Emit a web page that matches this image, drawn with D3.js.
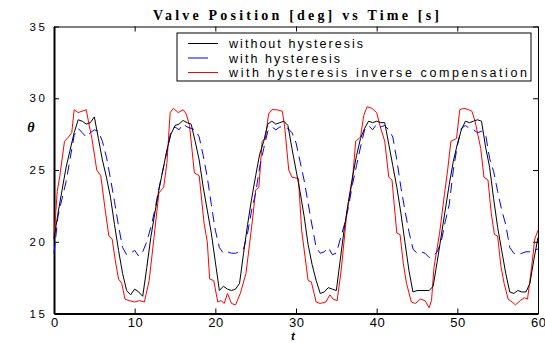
<!DOCTYPE html>
<html>
<head>
<meta charset="utf-8">
<script src="https://cdn.jsdelivr.net/npm/d3@7"></script>
<style>
    body { margin: 0; background: #fff; }
    .axis path, .axis line { stroke: #000; }
    .axis text { font-family: "Liberation Sans", Arial, sans-serif; fill: #000; }
    .x-axis text { font-size: 13px; }
    .y-axis text { font-size: 11.5px; }
</style>
</head>
<body>
<div id="chart"></div>
<script>
// sample instants for black and blue series (every 0.5 s)
var sampleTime = d3.range(0, 60.25, 0.5);

var withoutHysteresis = [
    20.2, 22.0, 23.6, 25.2, 26.4, 27.6, 28.5, 28.4, 28.2, 28.3, 28.7, 27.2,
    25.7, 24.5, 23.1, 21.2, 19.4, 17.8, 16.6, 16.3, 16.7, 16.5, 16.2, 18.2,
    20.3, 22.0, 23.6, 25.0, 26.4, 27.5, 28.1, 28.2, 28.45, 28.3, 28.2, 27.0,
    25.7, 23.8, 22.2, 20.6, 18.6, 16.6, 16.9, 16.7, 16.6, 16.7, 17.1, 19.2,
    21.2, 23.0, 24.6, 26.1, 27.0, 28.2, 28.4, 28.2, 28.3, 28.4, 28.1, 26.5,
    25.0, 23.5, 21.8, 19.8, 18.4, 17.3, 16.4, 16.5, 16.8, 16.7, 16.6, 18.8,
    21.0, 22.8, 24.5, 26.0, 27.2, 27.9, 28.4, 28.3, 28.4, 28.3, 28.3, 26.8,
    25.3, 23.8, 22.0, 20.0, 18.0, 16.5, 16.6, 16.6, 16.6, 16.6, 16.9, 18.6,
    20.4, 22.2, 24.0, 25.6, 26.8, 27.8, 28.4, 28.3, 28.4, 28.5, 28.4, 26.6,
    25.2, 23.0, 21.0, 19.4, 17.8, 16.5, 16.4, 16.6, 16.5, 16.5, 17.1, 18.8,
    20.3
];

var withHysteresis = [
    19.2, 21.8, 23.0, 24.2, 25.8, 27.4, 27.9, 27.6, 27.3, 27.6, 27.8, 27.7,
    27.0, 25.9, 24.4, 22.8, 21.1, 19.6, 19.1, 19.2, 19.4, 19.0, 19.3, 20.0,
    21.0, 22.2, 23.7, 25.0, 26.3, 27.7, 28.0, 27.8, 28.2, 28.0, 27.9, 27.8,
    27.3, 26.0, 24.5, 22.6, 20.8, 19.6, 19.2, 19.3, 19.2, 19.2, 19.3, 19.5,
    20.6, 22.2, 23.4, 25.2, 26.5, 27.7, 28.0, 27.8, 28.0, 28.0, 27.9, 27.6,
    26.9, 25.6, 24.3, 22.7, 21.1, 19.6, 19.2, 19.3, 19.6, 19.1, 19.2, 20.2,
    21.2, 22.4, 24.0, 25.3, 26.6, 27.8, 28.1, 27.8, 28.2, 28.0, 28.1, 27.8,
    27.3, 25.7, 23.8, 22.2, 20.7, 19.5, 19.2, 19.3, 19.2, 18.9, 19.0, 19.3,
    20.0, 21.4, 22.6, 25.0, 26.7, 27.9, 28.1, 27.9, 27.8, 27.6, 27.7, 27.5,
    25.8, 24.9, 23.5, 22.2, 21.2, 19.6, 19.2, 19.1, 19.2, 19.3, 19.3, 19.4,
    19.5
];

// compensated series has its own irregular sample instants
var compTime = [
    0, 0.4, 0.7, 1.3, 1.8, 2.2, 2.5, 3.0, 3.5, 4.0, 4.3, 4.7, 5.3, 5.8, 6.3, 6.8,
    7.2, 7.6, 8.0, 8.4, 8.8, 9.3, 10.0, 10.6, 11.2, 11.8, 12.4, 13.0, 13.6, 14.0,
    14.4, 14.8, 15.4, 16.0, 16.4, 16.8, 17.4, 18.0, 18.6, 19.0, 19.3, 19.8, 20.3,
    20.7, 21.1, 21.5, 22.0, 22.5, 23.1, 23.8, 24.6, 25.0, 25.4, 25.8, 26.2, 26.6,
    27.0, 27.6, 28.3, 28.6, 29.1, 29.5, 30.3, 30.7, 31.5, 31.9, 32.5, 33.0, 33.7,
    34.2, 34.6, 35.1, 35.6, 36.3, 37.0, 37.4, 38.0, 38.4, 38.8, 39.4, 40.0, 40.4,
    41.0, 41.5, 41.9, 42.3, 42.5, 42.9, 43.3, 43.7, 44.3, 44.8, 45.4, 46.0, 46.5,
    46.8, 47.1, 47.8, 48.4, 48.8, 49.2, 49.9, 50.3, 50.8, 51.4, 51.8, 52.2, 52.9,
    53.3, 53.8, 54.2, 54.6, 55.0, 55.4, 55.8, 56.3, 56.8, 57.2, 57.8, 58.3, 58.7,
    59.2, 59.6, 60
];
var withCompensation = [
    20.3, 23.5, 24.5, 27.0, 27.3, 27.6, 29.2, 29.0, 29.1, 29.2, 28.3, 27.2, 25.0, 24.6, 22.4, 20.4,
    20.2, 18.7, 17.4, 17.1, 16.0, 15.9, 15.8, 15.9, 15.8, 17.3, 20.3, 23.4, 23.8, 25.5,
    29.0, 29.3, 29.0, 29.2, 28.9, 28.1, 24.8, 24.6, 21.3, 20.0, 17.4, 17.3, 15.8,
    15.9, 15.7, 16.4, 15.7, 15.6, 16.4, 17.8, 21.5, 23.6, 23.8, 27.0, 27.2, 28.9,
    29.2, 29.2, 29.1, 28.0, 25.0, 24.5, 24.4, 20.8, 17.3, 17.2, 15.8, 15.7, 15.8,
    16.3, 16.0, 15.9, 18.0, 22.0, 24.3, 27.0, 27.3, 28.8, 29.4, 29.3, 29.0, 28.1,
    27.0, 24.5, 24.3, 21.8, 20.6, 20.5, 18.5, 17.1, 15.8, 15.7, 16.0, 15.9, 15.4,
    15.9, 18.2, 20.6, 23.3, 25.0, 27.0, 27.2, 29.2, 29.3, 29.2, 29.1, 28.4, 26.5,
    24.5, 24.3, 22.0, 20.5, 20.4, 18.3, 17.1, 16.0, 15.8, 15.6, 15.9, 16.1, 16.0,
    18.2, 20.2, 20.8
];

var xTicks = [0, 10, 20, 30, 40, 50, 60];
var yTicks = [15, 20, 25, 30, 35];
var legendLabels = ["without hysteresis", "with hysteresis", "with hysteresis inverse compensation"];

var margin = { top: 26.5, right: 7, bottom: 29.5, left: 54 };
var width = 545 - margin.left - margin.right;
var height = 343 - margin.top - margin.bottom;

var svg = d3.select("#chart").append("svg")
    .attr("width", 545)
    .attr("height", 343);

var g = svg.append("g")
    .attr("transform", "translate(" + margin.left + "," + margin.top + ")");

var x = d3.scaleLinear().domain([0, 60]).range([0, width]);
var y = d3.scaleLinear().domain([15, 35]).range([height, 0]);

// spread the digits apart a bit, like the original print
function spreadDigits(sel, w) {
    sel.each(function () {
        var t = d3.select(this);
        if (t.text().length > 1) t.attr("textLength", w).attr("lengthAdjust", "spacing");
    });
}

// axes, ticks pointing inward like matlab
g.append("g")
    .attr("class", "axis x-axis")
    .attr("transform", "translate(0," + height + ")")
    .call(d3.axisBottom(x).tickValues(xTicks).tickSizeInner(-5).tickSizeOuter(0).tickPadding(4.5))
    .selectAll("text").call(spreadDigits, 15);

g.append("g")
    .attr("class", "axis")
    .call(d3.axisTop(x).tickValues(xTicks).tickSizeInner(-5).tickSizeOuter(0).tickFormat(""));

g.append("g")
    .attr("class", "axis y-axis")
    .call(d3.axisLeft(y).tickValues(yTicks).tickSizeInner(-5).tickSizeOuter(0).tickPadding(9))
    .selectAll("text").call(spreadDigits, 15.5);

g.append("g")
    .attr("class", "axis")
    .attr("transform", "translate(" + width + ",0)")
    .call(d3.axisRight(y).tickValues(yTicks).tickSizeInner(-5).tickSizeOuter(0).tickFormat(""));

g.selectAll(".axis path").attr("stroke-width", 1);
g.select(".x-axis path").attr("stroke-width", 2);
g.select(".y-axis path").attr("stroke-width", 2);

var line = d3.line()
    .x(function (d) { return x(d[0]); })
    .y(function (d) { return y(d[1]); });

var series = [
    { name: legendLabels[0], t: sampleTime, v: withoutHysteresis, color: "#000000", dash: null, key: 30 },
    { name: legendLabels[1], t: sampleTime, v: withHysteresis, color: "#0000ff", dash: "10,6", key: 20 },
    { name: legendLabels[2], t: compTime, v: withCompensation, color: "#ff0000", dash: null, key: 30 }
];

var drawOrder = [2, 1, 0];
drawOrder.forEach(function (i) {
    var s = series[i];
    g.append("path")
        .datum(s.t.map(function (t, k) { return [t, s.v[k]]; }))
        .attr("fill", "none")
        .attr("stroke", s.color)
        .attr("stroke-width", 1)
        .attr("stroke-dasharray", s.dash)
        .attr("d", line);
});

// legend
var legend = svg.append("g").attr("transform", "translate(177,33)");
legend.append("rect")
    .attr("width", 354)
    .attr("height", 48)
    .attr("fill", "#fff")
    .attr("stroke", "#000")
    .attr("stroke-width", 1);

var textWidths = [134, 111, 298];
series.forEach(function (s, i) {
    var ly = 10.5 + i * 14.5;
    legend.append("line")
        .attr("x1", 11).attr("x2", 11 + s.key)
        .attr("y1", ly).attr("y2", ly)
        .attr("stroke", s.color)
        .attr("stroke-width", 1);
    legend.append("text")
        .attr("x", 52)
        .attr("y", ly + 4.5)
        .attr("textLength", textWidths[i])
        .attr("lengthAdjust", "spacing")
        .style("font-family", "'Liberation Sans', Arial, sans-serif")
        .style("font-size", "12.5px")
        .text(s.name);
});

// title and axis labels
svg.append("text")
    .attr("x", 153)
    .attr("y", 20)
    .attr("textLength", 286)
    .attr("lengthAdjust", "spacing")
    .style("font-family", "'Liberation Serif', 'Times New Roman', serif")
    .style("font-weight", "bold")
    .style("font-size", "14px")
    .text("Valve Position [deg] vs Time [s]");

svg.append("text")
    .attr("x", 293)
    .attr("y", 340)
    .attr("text-anchor", "middle")
    .style("font-family", "'Liberation Sans', Arial, sans-serif")
    .style("font-weight", "bold")
    .style("font-style", "italic")
    .style("font-size", "11.5px")
    .text("t");

svg.append("text")
    .attr("x", 31)
    .attr("y", 132)
    .attr("text-anchor", "middle")
    .style("font-family", "'Liberation Serif', 'Times New Roman', serif")
    .style("font-weight", "bold")
    .style("font-style", "italic")
    .style("font-size", "14px")
    .text("θ");
</script>
</body>
</html>
